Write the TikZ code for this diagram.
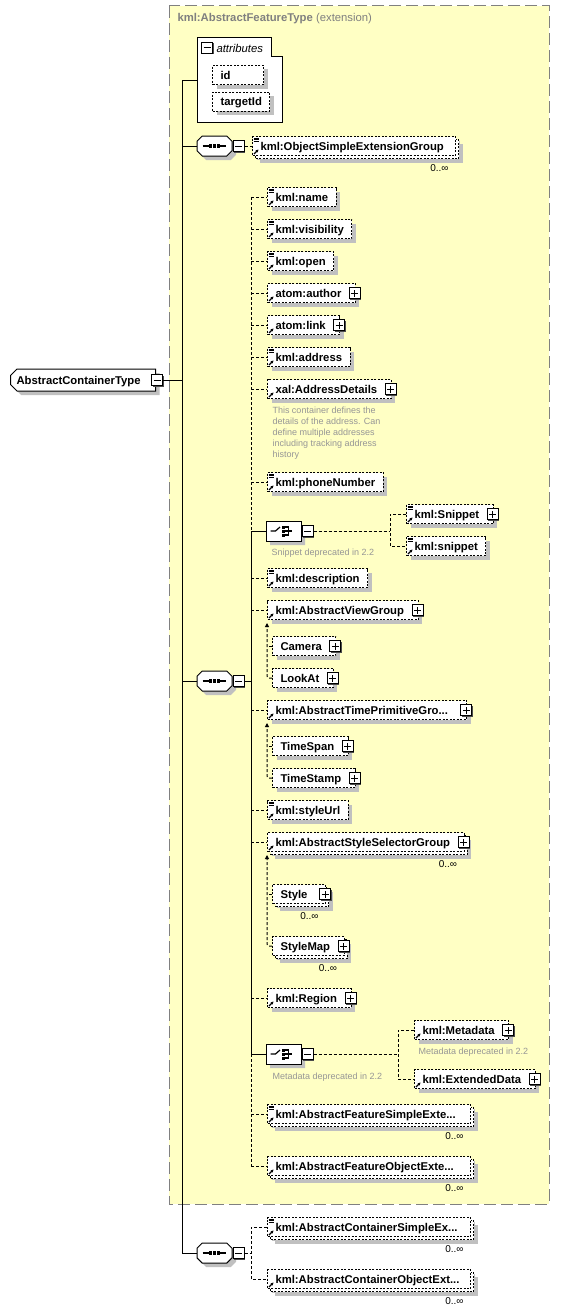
\documentclass[tikz,border=0pt]{standalone}
\usepackage{fontspec}
\setmainfont{Liberation Sans}
\usetikzlibrary{positioning,shapes.misc,shadows,arrows.meta}
\definecolor{extfill}{RGB}{255,255,196}
\definecolor{shadegray}{RGB}{192,192,192}
\definecolor{notegray}{RGB}{150,150,150}
\definecolor{titlegray}{RGB}{128,128,128}
\newcommand\elemfont{\fontsize{11.3}{13}\selectfont\bfseries}
\newcommand\notefont{\fontsize{9}{11}\selectfont}
\newcommand\seqdot{\rule[-1.7pt]{3.4pt}{3.4pt}}
\newcommand\seqicon{\rule[-0.6pt]{6pt}{1.2pt}\seqdot\hspace{0.7pt}\seqdot\hspace{0.7pt}\seqdot\rule[-0.6pt]{6pt}{1.2pt}}
\begin{document}
\begin{tikzpicture}[x=1pt, y=-1pt, line width=1pt,
  endpad/.initial=8pt,
  elem/.style={draw, fill=white, dash pattern=on 2pt off 1.5pt, font=\elemfont,
    anchor=west, inner xsep=0pt, inner ysep=0pt, minimum height=19pt,
    text height=8.5pt, text depth=0.5pt,
    execute at begin node=\noindent\hspace*{8pt},
    execute at end node=\hspace*{\pgfkeysvalueof{/tikz/endpad}},
    general shadow={fill=shadegray, shadow xshift=4pt, shadow yshift=-4pt}},
  multi/.style={general shadow={fill=shadegray, shadow xshift=7pt, shadow yshift=-7pt},
    general shadow={draw=black, fill=white, line width=1pt, dash pattern=on 2pt off 1.5pt,
      shadow xshift=3pt, shadow yshift=-3pt}},
  wide/.style={text width=203pt, align=left, endpad=0pt},
  expand/.style={endpad=14pt, append after command={\pgfextra{\let\host\tikzlastnode}
    node[plusbox] at ([xshift=-1pt]\host.east) {}}},
  ref/.style={path picture={
    \draw[solid, line width=1.1pt, -{Stealth[length=3pt, width=3pt]}]
      ([shift={(1.5pt,1.5pt)}]path picture bounding box.south west) -- ++(4.5pt,4.5pt);}},
  simple/.style={path picture={
    \draw[solid, line width=1.1pt, -{Stealth[length=3pt, width=3pt]}]
      ([shift={(1.5pt,1.5pt)}]path picture bounding box.south west) -- ++(4.5pt,4.5pt);
    \foreach \d in {1.5,3,4.5}
      \draw[solid, line width=0.8pt] ([shift={(1pt,-\d pt)}]path picture bounding box.north west) -- ++(5pt,0pt);}},
  plusbox/.style={draw, solid, fill=white, minimum size=11pt, inner sep=0pt,
    general shadow={fill=black!70, shadow xshift=1pt, shadow yshift=-1pt},
    path picture={\draw ([xshift=-3.5pt]path picture bounding box.center) -- ([xshift=3.5pt]path picture bounding box.center)
      ([yshift=-3.5pt]path picture bounding box.center) -- ([yshift=3.5pt]path picture bounding box.center);}},
  minusbox/.style={draw, solid, fill=white, minimum size=11pt, inner sep=0pt,
    general shadow={fill=black!70, shadow xshift=1pt, shadow yshift=-1pt},
    path picture={\draw ([xshift=-3.5pt]path picture bounding box.center) -- ([xshift=3.5pt]path picture bounding box.center);}},
  comp/.style={chamfered rectangle, chamfered rectangle xsep=5pt, draw, solid, fill=white,
    minimum width=35pt, minimum height=20pt, inner sep=0pt,
    general shadow={fill=shadegray, shadow xshift=4pt, shadow yshift=-4pt}},
  seqnode/.style={comp, execute at begin node=\seqicon},
  choicenode/.style={comp, path picture={
    \coordinate (cc) at (path picture bounding box.center);
    \draw[solid, line width=1.2pt] ([xshift=-13pt]cc) -- ([xshift=-8pt]cc) -- ([shift={(-3.5pt,4pt)}]cc);
    \foreach \d in {-4,0,4}
      \fill[black] ([shift={(-0.5pt,\d pt)}]cc) +(-1.5pt,-1.5pt) rectangle +(1.5pt,1.5pt);
    \draw[solid, line width=1.2pt] ([shift={(1.5pt,4pt)}]cc) -- ([shift={(5pt,4pt)}]cc) -- ([shift={(5pt,-4pt)}]cc) -- ([shift={(1.5pt,-4pt)}]cc)
      ([shift={(1.5pt,0pt)}]cc) -- ([shift={(8pt,0pt)}]cc);}},
  rootbox/.style={chamfered rectangle, chamfered rectangle corners={north west,south west},
    chamfered rectangle xsep=3pt, draw, fill=white, font=\elemfont, anchor=west,
    minimum height=22pt, inner xsep=0pt, inner ysep=0pt, text height=8.5pt, text depth=0.5pt,
    execute at begin node=\hspace*{3pt}, execute at end node=\hspace*{12pt},
    general shadow={fill=shadegray, shadow xshift=4pt, shadow yshift=-4pt}},
  optline/.style={dash pattern=on 3pt off 2pt},
  subst/.style={optline, rounded corners=2pt},
  note/.style={font=\notefont, text=notegray, anchor=west, inner sep=0pt, align=left},
  occ/.style={font=\fontsize{10}{12}\selectfont, anchor=east, inner sep=0pt}]
\useasboundingbox (0,0) rectangle (560,1314);

\draw[fill=extfill, draw=titlegray, dash pattern=on 12pt off 5pt] (169,6) rectangle (549,1204);
\node[anchor=west, inner sep=0pt, text=titlegray, font=\elemfont] (title) at (177,19)
  {kml:AbstractFeatureType {\mdseries (extension)}};

\node[rootbox] (root) at (10,380) {AbstractContainerType};
\node[minusbox] (rootm) at ([xshift=1pt]root.east) {};

\draw[fill=white] (197,38) -- (271,38) -- (271,57) -- (282,57) -- (282,122) -- (197,122) -- cycle;
\coordinate (attr) at (197,80);
\node[minusbox] (attrm) at (207,48) {};
\node[anchor=west, inner sep=0pt, font=\fontsize{11.3}{13}\selectfont\itshape] (attrlbl) at (216,48) {attributes};
\node[elem, endpad=33pt] (id) at (212,75) {id};
\node[elem] (tid) at (212,101.5) {targetId};

\node[seqnode] (seq1) at (214.5,146) {};
\node[minusbox, right=0pt of seq1] (seq1m) {};
\node[elem, simple, multi, wide] (osg) at (252,146) {kml:ObjectSimpleExtensionGroup};
\node[occ] (osgocc) at ([xshift=-7pt,yshift=-12.5pt]osg.south east) {0..∞};

\node[seqnode] (seq2) at (214.5,681) {};
\node[minusbox, right=0pt of seq2] (seq2m) {};
\node[elem, simple] (kname) at (267,197) {kml:name};
\node[elem, simple] (kvis) at (267,229) {kml:visibility};
\node[elem, simple] (kopen) at (267,261) {kml:open};
\node[elem, ref, expand] (author) at (267,293) {atom:author};
\node[elem, ref, expand] (alink) at (267,325) {atom:link};
\node[elem, simple] (address) at (267,357) {kml:address};
\node[elem, ref, expand] (addrdet) at (267,389) {xal:AddressDetails};
\node[note] (addrnote) at (272,433) {This container defines the\\details of the address. Can\\define multiple addresses\\including tracking address\\history};
\node[elem, simple] (phone) at (267,482) {kml:phoneNumber};
\node[choicenode] (ch1) at (283.5,531) {};
\node[minusbox, right=0pt of ch1] (ch1m) {};
\node[note] (ch1note) at (271,553) {Snippet deprecated in 2.2};
\node[elem, simple, expand] (snipA) at (406,514) {kml:Snippet};
\node[elem, simple] (snipB) at (406,546) {kml:snippet};
\node[elem, simple] (descr) at (267,578) {kml:description};
\node[elem, ref, expand] (view) at (267,610) {kml:AbstractViewGroup};
\node[elem, expand] (camera) at (272,646) {Camera};
\node[elem, expand] (lookat) at (272,678) {LookAt};
\node[elem, ref, expand, endpad=19pt] (time) at (267,710) {kml:AbstractTimePrimitiveGro...};
\node[elem, expand] (timespan) at (272,746) {TimeSpan};
\node[elem, expand] (timestamp) at (272,778) {TimeStamp};
\node[elem, simple] (styleurl) at (267,810) {kml:styleUrl};
\node[elem, ref, multi, expand] (stylesel) at (267,842) {kml:AbstractStyleSelectorGroup};
\node[occ] (styleselocc) at ([xshift=-7pt,yshift=-12.5pt]stylesel.south east) {0..∞};
\node[elem, multi, expand, endpad=18pt] (style) at (272,894) {Style};
\node[occ] (styleocc) at ([xshift=-7pt,yshift=-12.5pt]style.south east) {0..∞};
\node[elem, multi, expand] (stylemap) at (272,946) {StyleMap};
\node[occ] (stylemapocc) at ([xshift=-7pt,yshift=-12.5pt]stylemap.south east) {0..∞};
\node[elem, ref, expand] (region) at (267,998) {kml:Region};
\node[choicenode] (ch2) at (283.5,1054) {};
\node[minusbox, right=0pt of ch2] (ch2m) {};
\node[note] (ch2note) at (272,1077) {Metadata deprecated in 2.2};
\node[elem, ref, expand] (metadata) at (414,1030) {kml:Metadata};
\node[note] (metanote) at (418,1052) {Metadata deprecated in 2.2};
\node[elem, ref, expand] (extdata) at (414,1079) {kml:ExtendedData};
\node[elem, simple, multi, wide] (fsimple) at (267,1114) {kml:AbstractFeatureSimpleExte...};
\node[occ] (fsimpleocc) at ([xshift=-7pt,yshift=-12.5pt]fsimple.south east) {0..∞};
\node[elem, ref, multi, wide] (fobject) at (267,1166) {kml:AbstractFeatureObjectExte...};
\node[occ] (fobjectocc) at ([xshift=-7pt,yshift=-12.5pt]fobject.south east) {0..∞};

\node[seqnode] (seq3) at (214.5,1253) {};
\node[minusbox, right=0pt of seq3] (seq3m) {};
\node[elem, simple, multi, wide] (csimple) at (267,1227) {kml:AbstractContainerSimpleEx...};
\node[occ] (csimpleocc) at ([xshift=-7pt,yshift=-12.5pt]csimple.south east) {0..∞};
\node[elem, ref, multi, wide] (cobject) at (267,1279) {kml:AbstractContainerObjectExt...};
\node[occ] (cobjectocc) at ([xshift=-7pt,yshift=-12.5pt]cobject.south east) {0..∞};

\coordinate (spine) at (182,0);
\coordinate (in2) at (251,0);
\coordinate (fork1) at (390,0);
\coordinate (fork2) at (398,0);
\draw (rootm.east) -- (rootm.east -| spine);
\draw (attr) -- (attr -| spine) -- (seq3.west -| spine) -- (seq3.west);
\foreach \n in {seq1,seq2}
  \draw (\n.west -| spine) -- (\n.west);
\draw[optline] (seq1m.east) -- (osg.west);

\draw (seq2m.east) -- (seq2m.east -| in2);
\draw[optline] (kname.west -| in2) -- (ch1.west -| in2);
\draw (ch1.west -| in2) -- (ch2.west -| in2);
\draw[optline] (ch2.west -| in2) -- (fobject.west -| in2);
\foreach \n in {kname,kvis,kopen,author,alink,address,addrdet,phone,descr,view,time,styleurl,stylesel,region,fsimple,fobject}
  \draw[optline] (\n.west -| in2) -- (\n.west);
\foreach \n in {ch1,ch2}
  \draw (\n.west -| in2) -- (\n.west);

\draw[optline] (ch1m.east) -- (ch1m.east -| fork1);
\draw[optline] (snipA.west) -| (snipB.west -| fork1) -- (snipB.west);
\draw[optline] (ch2m.east) -- (ch2m.east -| fork2);
\draw[optline] (metadata.west) -| (extdata.west -| fork2) -- (extdata.west);

\draw[subst, -{Triangle[length=4pt, width=4pt]}] (lookat.west) -| ([yshift=-3pt]view.south west);
\draw[subst] (camera.west) -- (camera.west -| view.west);
\draw[subst, -{Triangle[length=4pt, width=4pt]}] (timestamp.west) -| ([yshift=-3pt]time.south west);
\draw[subst] (timespan.west) -- (timespan.west -| time.west);
\draw[subst, -{Triangle[length=4pt, width=4pt]}] (stylemap.west) -| ([yshift=-3pt]stylesel.south west);
\draw[subst] (style.west) -- (style.west -| stylesel.west);

\draw[optline] (seq3m.east) -- (seq3m.east -| in2);
\draw[optline] (csimple.west) -| (cobject.west -| in2) -- (cobject.west);
\end{tikzpicture}
\end{document}
